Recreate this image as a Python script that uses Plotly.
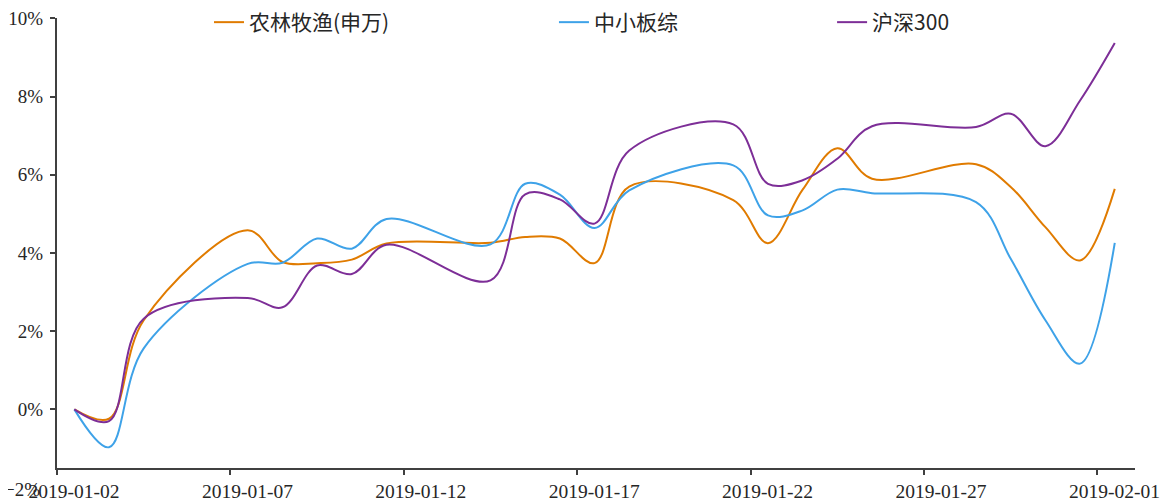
"""
Cumulative returns, January 2019: agriculture index vs. SME board and CSI 300.
"""

import plotly.graph_objects as go

dates = ['2019-01-02', '2019-01-03', '2019-01-04', '2019-01-07', '2019-01-08',
         '2019-01-09', '2019-01-10', '2019-01-11', '2019-01-14', '2019-01-15',
         '2019-01-16', '2019-01-17', '2019-01-18', '2019-01-21', '2019-01-22',
         '2019-01-23', '2019-01-24', '2019-01-25', '2019-01-28', '2019-01-29',
         '2019-01-30', '2019-01-31', '2019-02-01']

# cumulative return, %
agri = [0, -0.24, 2.28, 4.58, 3.77, 3.74, 3.83, 4.24, 4.26, 4.41, 4.37, 3.74,
        5.70, 5.35, 4.25, 5.62, 6.68, 5.90, 6.27, 5.69, 4.66, 3.81, 5.64]
sme = [0, -0.97, 1.56, 3.72, 3.75, 4.37, 4.11, 4.87, 4.22, 5.77, 5.49, 4.64,
       5.60, 6.24, 4.96, 5.09, 5.62, 5.53, 5.30, 3.85, 2.28, 1.17, 4.26]
hs300 = [0, -0.30, 2.32, 2.85, 2.61, 3.68, 3.46, 4.21, 3.30, 5.50, 5.37, 4.75,
         6.62, 7.29, 5.77, 5.86, 6.41, 7.24, 7.22, 7.56, 6.73, 7.90, 9.37]

names = ['农林牧渔(申万)', '中小板综', '沪深300']
colors = ['#E07B00', '#3EA2E8', '#7D2E97']
y_ticks = [0, 2, 4, 6, 8, 10]
y_ticktext = ['0%', '2%', '4%', '6%', '8%', '10%']
Y_MIN, Y_MAX = -1.5, 10.01

# Excel-style date axis: each day's point sits in the middle of its day slot
x_mid = [d + ' 12:00' for d in dates]

LATIN = 'Liberation Serif, Noto Sans CJK SC, serif'
CJK = 'Noto Sans CJK SC, sans-serif'
AXIS = '#404040'
TEXT = '#262626'

fig = go.Figure()
legend_ids = ['legend', 'legend2', 'legend3']
for series, name, color, lg in zip([agri, sme, hs300], names, colors, legend_ids):
    fig.add_trace(go.Scatter(
        x=x_mid, y=series, name=name, mode='lines',
        line=dict(color=color, width=2, shape='spline', smoothing=1.0),
        legend=lg,
    ))

legend_style = dict(orientation='h', yanchor='middle', y=0.99, xanchor='left',
                    bgcolor='rgba(0,0,0,0)', font=dict(family=CJK, size=21, color=TEXT))

# page body has an 8px margin, so the figure is shrunk by 8px to fit the window
fig.update_layout(
    width=1163, height=494,
    margin=dict(l=49, r=36, t=10, b=34, autoexpand=False),
    font=dict(family=LATIN, color=TEXT),
    plot_bgcolor='white', paper_bgcolor='white',
    legend=dict(x=0.141, **legend_style),
    legend2=dict(x=0.461, **legend_style),
    legend3=dict(x=0.719, **legend_style),
    showlegend=True,
)

fig.update_xaxes(
    type='date', automargin=False,
    range=['2019-01-02 00:00', '2019-02-02 02:00'],
    tick0='2019-01-02', dtick=5 * 86400000, tickformat='%Y-%m-%d',
    ticklabelshift=17,  # labels sit in the middle of the day slot
    showgrid=False, zeroline=False,
    showline=True, linecolor=AXIS, linewidth=2,
    ticks='outside', ticklen=5, tickcolor=AXIS, tickwidth=2,
    tickfont=dict(family=LATIN, size=19.5, color=TEXT),
)
fig.update_yaxes(
    automargin=False,
    range=[Y_MIN, Y_MAX],
    tickmode='array', tickvals=y_ticks, ticktext=y_ticktext,
    ticklabelstandoff=3,
    showgrid=False, zeroline=False,
    showline=True, linecolor=AXIS, linewidth=2,
    ticks='outside', ticklen=5, tickcolor=AXIS, tickwidth=2,
    tickfont=dict(family=LATIN, size=19, color=TEXT),
)

# the -2% label sits below the axis floor in the original, on the date label row
fig.add_annotation(
    xref='paper', yref='paper', x=0, y=(-2 - Y_MIN) / (Y_MAX - Y_MIN),
    xanchor='right', yanchor='middle', xshift=-15, yshift=-2,
    text='−2%', showarrow=False,
    font=dict(family=LATIN, size=19, color=TEXT),
)

fig.write_html('out.html')
